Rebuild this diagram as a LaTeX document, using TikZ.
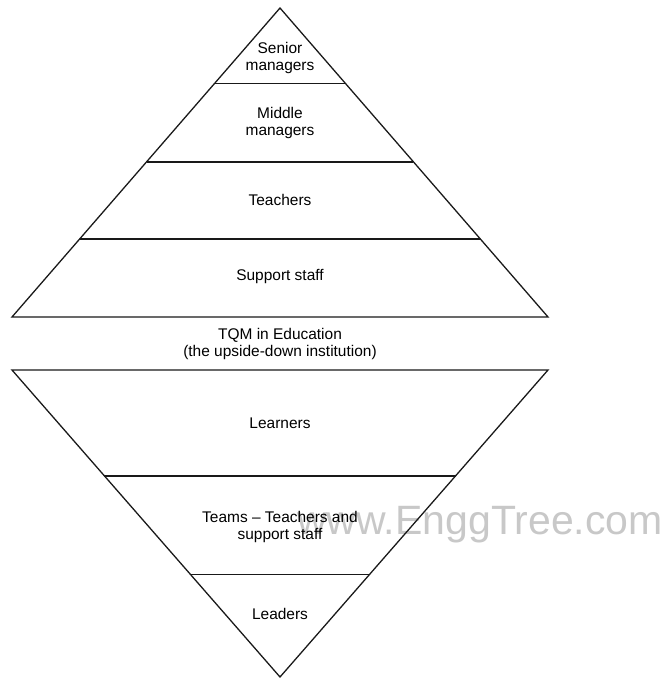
\documentclass[tikz,border=0pt]{standalone}
\usepackage{fontspec}
\setmainfont{Liberation Sans}
\usetikzlibrary{calc}
\definecolor{LineColor}{RGB}{25,25,25}
\definecolor{MarkColor}{RGB}{200,200,200}
\tikzstyle{edge} = [line width=1.1pt, LineColor]
\tikzstyle{label} = [align=center, inner sep=0pt, font=\fontsize{13.2}{13.8}\selectfont]

\begin{document}
\begin{tikzpicture}[x=0.03cm, y=-0.03cm]
    \useasboundingbox (0,0) rectangle (663,678);

    % watermark behind everything
    \node[anchor=east, inner sep=0pt, MarkColor, font=\fontsize{35}{35}\selectfont] (mark) at (663,525) {www.EnggTree.com};

    % upper pyramid (the traditional institution)
    \coordinate (UpApex) at (280,8);
    \coordinate (UpLeft) at (12,317);
    \coordinate (UpRight) at (548,317);
    \draw[edge] (UpLeft) -- (UpApex) -- (UpRight) -- cycle;
    \foreach \t in {0.245,0.498,0.748} {
            \draw[edge] ($(UpApex)!\t!(UpLeft)$) -- ($(UpApex)!\t!(UpRight)$);
        }

    \node[label] (senior) at (280,58) {Senior\\managers};
    \node[label] (middle) at (280,123) {Middle\\managers};
    \node[label] (teachers) at (280,200) {Teachers};
    \node[label] (support) at (280,277) {Support staff};

    % caption between the two
    \node[label] (caption) at (280,344) {TQM in Education\\(the upside-down institution)};

    % lower pyramid (upside down)
    \coordinate (LowApex) at (280,677);
    \coordinate (LowLeft) at (12,370);
    \coordinate (LowRight) at (548,370);
    \draw[edge] (LowLeft) -- (LowApex) -- (LowRight) -- cycle;
    \foreach \t in {0.335,0.655} {
            \draw[edge] ($(LowApex)!\t!(LowLeft)$) -- ($(LowApex)!\t!(LowRight)$);
        }

    \node[label] (learners) at (280,423) {Learners};
    \node[label] (teams) at (280,527) {Teams -- Teachers and\\support staff};
    \node[label] (leaders) at (280,614) {Leaders};
\end{tikzpicture}
\end{document}
